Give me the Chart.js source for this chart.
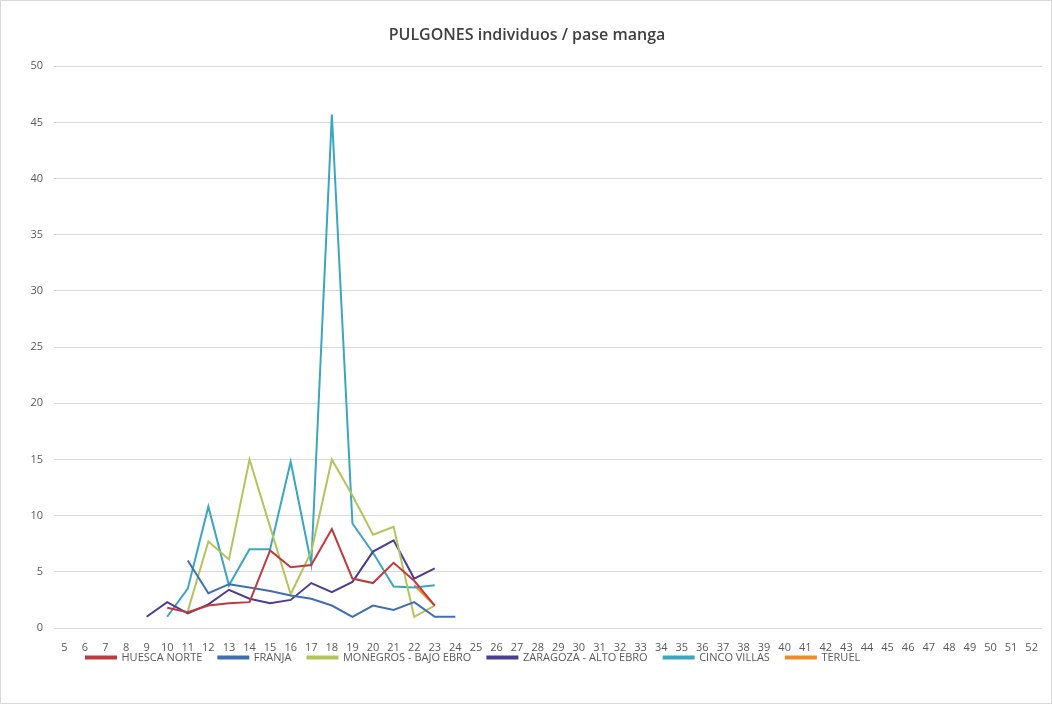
<!DOCTYPE html>
<html>
<head>
<meta charset="utf-8">
<script src="https://cdn.jsdelivr.net/npm/chart.js@4"></script>
<style>
  html, body { margin: 0; padding: 0; background: #fff; }
  #wrap { position: relative; width: 1050px; height: 702px; border: 1px solid #d9d9d9; }
  canvas { display: block; }
</style>
</head>
<body>
<div id="wrap"><canvas id="c" width="1050" height="702"></canvas></div>
<script>
// Category labels: weeks 5..52
const weeks = ["5","6","7","8","9","10","11","12","13","14","15","16","17","18","19","20","21","22","23","24","25","26","27","28","29","30","31","32","33","34","35","36","37","38","39","40","41","42","43","44","45","46","47","48","49","50","51","52"];
const yTicks = [0, 5, 10, 15, 20, 25, 30, 35, 40, 45, 50];
const chartTitle = "PULGONES individuos / pase manga";

// Values for weeks 9..24 (null = no data); later weeks are empty
const firstWeek = 9;
const huescaNorte      = [null, 1.8, 1.4, 2.0, 2.2, 2.3, 6.9, 5.4, 5.6, 8.8, 4.4, 4.0, 5.8, 4.2, 2.0, null];
const franja           = [null, null, 6.0, 3.1, 3.9, 3.6, 3.3, 2.9, 2.6, 2.0, 1.0, 2.0, 1.6, 2.3, 1.0, 1.0];
const monegros         = [null, null, 1.5, 7.7, 6.1, 15.0, 9.0, 3.0, 6.8, 15.0, 11.8, 8.3, 9.0, 1.0, 2.0, null];
const zaragoza         = [1.0, 2.3, 1.3, 2.1, 3.4, 2.6, 2.2, 2.5, 4.0, 3.2, 4.1, 6.8, 7.8, 4.4, 5.3, null];
const cincoVillas      = [null, 1.0, 3.5, 10.8, 3.8, 7.0, 7.0, 14.8, 5.7, 45.7, 9.3, 6.7, 3.7, 3.6, 3.8, null];
const teruel           = [null, null, null, null, null, null, null, null, null, null, null, null, null, 3.8, 2.0, null];

const seriesNames  = ["HUESCA NORTE", "FRANJA", "MONEGROS - BAJO EBRO", "ZARAGOZA - ALTO EBRO", "CINCO VILLAS", "TERUEL"];
const seriesValues = [huescaNorte, franja, monegros, zaragoza, cincoVillas, teruel];
const seriesColors = ["#c0393f", "#3f6fb0", "#b3c45a", "#4b3d8f", "#3aa6c2", "#f08a2a"];

function expand(vals) {
  const out = weeks.map(() => null);
  const offset = firstWeek - Number(weeks[0]);
  vals.forEach((v, i) => { out[offset + i] = v; });
  return out;
}

const datasets = seriesNames.map((name, i) => ({
  label: name,
  data: expand(seriesValues[i]),
  borderColor: seriesColors[i],
  backgroundColor: seriesColors[i],
  borderWidth: 2,
  pointRadius: 0,
  pointHoverRadius: 0,
  tension: 0,
  spanGaps: false,
  fill: false
}));

// Nudge the legend box: Excel places it slightly left of centre, close to the axis labels
const legendNudge = {
  id: "legendNudge",
  afterLayout(chart) {
    const l = chart.legend;
    l.top -= 18; l.bottom -= 18;
    l.left = 69;
  }
};

const txt = "#595959";
new Chart(document.getElementById("c"), {
  type: "line",
  data: { labels: weeks, datasets },
  plugins: [legendNudge],
  options: {
    responsive: false,
    animation: false,
    devicePixelRatio: 1,
    layout: { padding: { left: 8, right: 6, top: 25, bottom: 12 } },
    plugins: {
      title: {
        display: true,
        text: chartTitle,
        color: "#404040",
        font: { family: "Open Sans", size: 16, weight: "600" },
        padding: { top: 0, bottom: 21 }
      },
      legend: {
        position: "bottom",
        align: "start",
        labels: {
          color: txt,
          font: { family: "Open Sans", size: 11 },
          boxWidth: 30,
          boxHeight: 2,
          padding: 16
        }
      },
      tooltip: { enabled: false }
    },
    scales: {
      x: {
        offset: true,
        afterFit: (s) => { s.height = 26; },
        grid: { display: false, drawTicks: false },
        border: { display: false },
        ticks: {
          color: txt,
          font: { family: "Open Sans", size: 11 },
          autoSkip: false,
          maxRotation: 0,
          minRotation: 0,
          padding: 13
        }
      },
      y: {
        min: 0,
        max: 50,
        afterBuildTicks: (s) => { s.ticks = yTicks.map(v => ({ value: v })); },
        afterFit: (s) => { s.width = 45; },
        grid: { color: "#d9d9d9", lineWidth: 1, drawTicks: false },
        border: { display: false },
        ticks: {
          color: txt,
          font: { family: "Open Sans", size: 11 },
          padding: 11
        }
      }
    }
  }
});
</script>
</body>
</html>
